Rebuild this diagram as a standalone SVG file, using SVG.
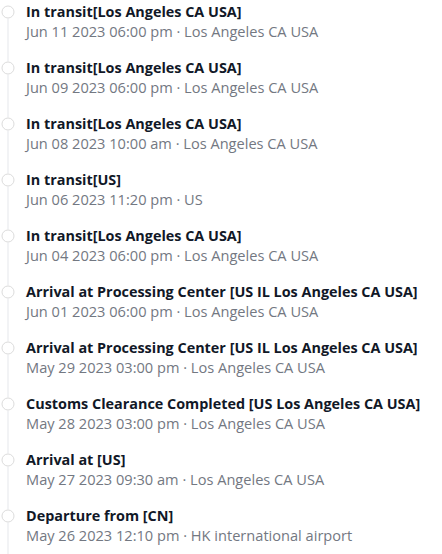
<svg xmlns="http://www.w3.org/2000/svg" width="442" height="554" viewBox="0 0 442 554">
<style>
.t{font-family:"Open Sans","Noto Sans","Liberation Sans",sans-serif;font-size:14.4px;font-weight:bold;fill:#111827}
.s{font-family:"Open Sans","Noto Sans","Liberation Sans",sans-serif;font-size:14.6px;fill:#737882}
.c{fill:#ffffff;stroke:#dcdcdc;stroke-width:1}
.l{stroke:#e5e7eb;stroke-width:1}
</style>
<rect width="442" height="554" fill="#ffffff"/>
<g id="connectors">
<line class="l" x1="8" y1="18.5" x2="8" y2="61.5"/>
<line class="l" x1="8" y1="74.5" x2="8" y2="117.5"/>
<line class="l" x1="8" y1="130.5" x2="8" y2="173.5"/>
<line class="l" x1="8" y1="186.5" x2="8" y2="229.5"/>
<line class="l" x1="8" y1="242.5" x2="8" y2="285.5"/>
<line class="l" x1="8" y1="298.5" x2="8" y2="341.5"/>
<line class="l" x1="8" y1="354.5" x2="8" y2="397.5"/>
<line class="l" x1="8" y1="410.5" x2="8" y2="453.5"/>
<line class="l" x1="8" y1="466.5" x2="8" y2="509.5"/>
<line class="l" x1="8" y1="522.5" x2="8" y2="554"/>
</g>
<g id="n1"><circle class="c" cx="8" cy="12" r="6"/><text class="t" x="26" y="17">In transit[Los Angeles CA USA]</text><text class="s" x="26" y="37">Jun 11 2023 06:00 pm · Los Angeles CA USA</text></g>
<g id="n2"><circle class="c" cx="8" cy="68" r="6"/><text class="t" x="26" y="73">In transit[Los Angeles CA USA]</text><text class="s" x="26" y="93">Jun 09 2023 06:00 pm · Los Angeles CA USA</text></g>
<g id="n3"><circle class="c" cx="8" cy="124" r="6"/><text class="t" x="26" y="129">In transit[Los Angeles CA USA]</text><text class="s" x="26" y="149">Jun 08 2023 10:00 am · Los Angeles CA USA</text></g>
<g id="n4"><circle class="c" cx="8" cy="180" r="6"/><text class="t" x="26" y="185">In transit[US]</text><text class="s" x="26" y="205">Jun 06 2023 11:20 pm · US</text></g>
<g id="n5"><circle class="c" cx="8" cy="236" r="6"/><text class="t" x="26" y="241">In transit[Los Angeles CA USA]</text><text class="s" x="26" y="261">Jun 04 2023 06:00 pm · Los Angeles CA USA</text></g>
<g id="n6"><circle class="c" cx="8" cy="292" r="6"/><text class="t" x="26" y="297">Arrival at Processing Center [US IL Los Angeles CA USA]</text><text class="s" x="26" y="317">Jun 01 2023 06:00 pm · Los Angeles CA USA</text></g>
<g id="n7"><circle class="c" cx="8" cy="348" r="6"/><text class="t" x="26" y="353">Arrival at Processing Center [US IL Los Angeles CA USA]</text><text class="s" x="26" y="373">May 29 2023 03:00 pm · Los Angeles CA USA</text></g>
<g id="n8"><circle class="c" cx="8" cy="404" r="6"/><text class="t" x="26" y="409">Customs Clearance Completed [US Los Angeles CA USA]</text><text class="s" x="26" y="429">May 28 2023 03:00 pm · Los Angeles CA USA</text></g>
<g id="n9"><circle class="c" cx="8" cy="460" r="6"/><text class="t" x="26" y="465">Arrival at [US]</text><text class="s" x="26" y="485">May 27 2023 09:30 am · Los Angeles CA USA</text></g>
<g id="n10"><circle class="c" cx="8" cy="516" r="6"/><text class="t" x="26" y="521">Departure from [CN]</text><text class="s" x="26" y="541">May 26 2023 12:10 pm · HK international airport</text></g>
</svg>
